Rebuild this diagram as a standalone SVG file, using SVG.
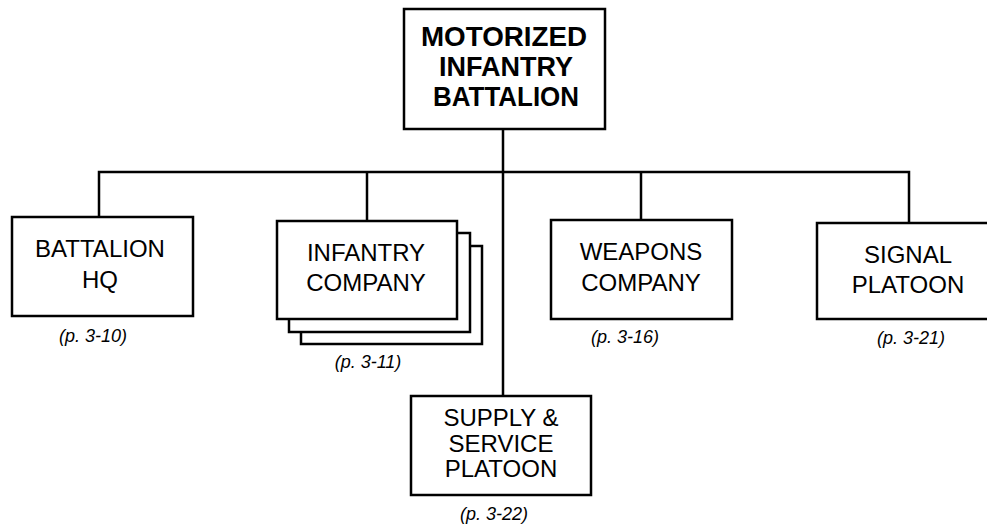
<svg xmlns="http://www.w3.org/2000/svg" width="987" height="531" viewBox="0 0 987 531">
<style>
.box{fill:#fff;stroke:#000;stroke-width:2.5}
.ln{fill:none;stroke:#000;stroke-width:2.5}
.t{font-family:"Liberation Sans",Arial,sans-serif;font-size:24px;fill:#000;text-anchor:middle}
.tb{font-family:"Liberation Sans",Arial,sans-serif;font-size:27px;font-weight:bold;fill:#000;text-anchor:middle}
.p{font-family:"Liberation Sans",Arial,sans-serif;font-size:18px;font-style:italic;fill:#000;text-anchor:middle}
</style>
<rect width="987" height="531" fill="#fff"/>
<g id="connectors">
<path class="ln" d="M503 129 V396"/>
<path class="ln" d="M99 217 V172 H909 V223"/>
<path class="ln" d="M367 172 V221"/>
<path class="ln" d="M641 172 V220"/>
</g>
<g id="battalion">
<rect class="box" x="404" y="9" width="201" height="120"/>
<text class="tb" x="504" y="46" textLength="166" lengthAdjust="spacingAndGlyphs">MOTORIZED</text>
<text class="tb" x="506" y="76">INFANTRY</text>
<text class="tb" x="506" y="106" textLength="146" lengthAdjust="spacingAndGlyphs">BATTALION</text>
</g>
<g id="battalion-hq">
<rect class="box" x="12" y="217" width="181" height="99"/>
<text class="t" x="100" y="257">BATTALION</text>
<text class="t" x="100" y="288">HQ</text>
<text class="p" x="93" y="342">(p. 3-10)</text>
</g>
<g id="infantry-company">
<rect class="box" x="301" y="246" width="181" height="98"/>
<rect class="box" x="289" y="233" width="181" height="99"/>
<rect class="box" x="277" y="221" width="180" height="98"/>
<text class="t" x="366" y="261">INFANTRY</text>
<text class="t" x="366" y="291">COMPANY</text>
<text class="p" x="368" y="368">(p. 3-11)</text>
</g>
<g id="weapons-company">
<rect class="box" x="551" y="220" width="181" height="99"/>
<text class="t" x="641" y="260">WEAPONS</text>
<text class="t" x="641" y="291">COMPANY</text>
<text class="p" x="625" y="343">(p. 3-16)</text>
</g>
<g id="signal-platoon">
<rect class="box" x="817" y="223" width="185" height="96"/>
<text class="t" x="908" y="263">SIGNAL</text>
<text class="t" x="908" y="293">PLATOON</text>
<text class="p" x="911" y="344">(p. 3-21)</text>
</g>
<g id="supply-service-platoon">
<rect class="box" x="411" y="396" width="180" height="99"/>
<text class="t" x="501" y="426">SUPPLY &amp;</text>
<text class="t" x="501" y="452">SERVICE</text>
<text class="t" x="501" y="477">PLATOON</text>
<text class="p" x="494" y="520">(p. 3-22)</text>
</g>
</svg>
